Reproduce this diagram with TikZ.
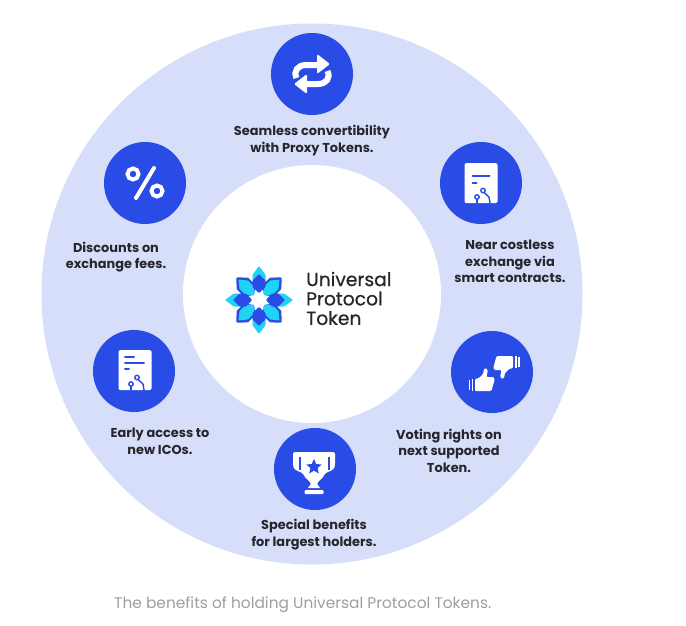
\documentclass[tikz,border=0pt]{standalone}
\usepackage{fontspec}
\setmainfont{Poppins}
\definecolor{ringc}{HTML}{D6DEF9}
\definecolor{bluec}{HTML}{2A4CE6}
\definecolor{cyanc}{HTML}{1FD3F5}
\definecolor{inkc}{HTML}{26262C}
\definecolor{capc}{HTML}{9C9EA0}
\tikzset{
  x=1pt,y=-1pt,
  badge/.style={circle,fill=bluec,minimum size=82pt,inner sep=0pt},
  lab/.style={align=center,font=\fontsize{12.9}{16.6}\selectfont\bfseries,text=inkc,inner sep=0pt},
  brand/.style={anchor=west,font=\fontsize{18.7}{20}\selectfont\addfontfeature{FakeBold=0.6},text=inkc,inner sep=0pt},
  captext/.style={anchor=west,font=\fontsize{15.4}{16}\selectfont,text=capc,inner sep=0pt},
  ico/.style={fill=white,draw=none},
  icl/.style={draw=bluec,line width=1.4pt,line cap=round},
  icb/.style={draw=bluec,line width=2pt,line cap=round}
}
\newcommand{\docicon}[1]{%
 \begin{scope}[shift={(#1)}]
  \fill[ico,rounded corners=1.5pt] (-16.5,-20) rectangle (16.5,20);
  \draw[icl] (-4,20) -- (-4,15);
  \draw[icl] (9,20) -- (8,14) -- (2.5,9);
  \draw[icl,fill=white] (-4,14) circle (2.2);
  \draw[icl,fill=white] (2,7.5) circle (2.2);
 \end{scope}}
\newcommand{\petal}[4]{%
 \begin{scope}[rotate=#1]
  \fill[#2,rounded corners=0.8pt] (#3,0) -- (0.74*#3,-#4) -- (13,-#4) -- (7,0) -- (13,#4) -- (0.74*#3,#4) -- cycle;
 \end{scope}}
\newcommand{\thumb}[2]{%
 \begin{scope}[shift={(#1)},rotate=#2]
  \fill[ico,rounded corners=1pt] (-9,-1) -- (-5,-2) -- (-1,-6) -- (0,-11) .. controls (2,-12) and (4,-11) .. (3.5,-8) -- (2.5,-3) -- (8,-3) .. controls (10.5,-3) and (10.5,0) .. (10,2) -- (8,9) .. controls (7.5,11) and (6.5,11) .. (5,11) -- (-9,11) -- cycle;
  \fill[ico] (-12.5,-1) rectangle (-11,11);
  \fill[ico] (-15.5,0) rectangle (-14,10);
 \end{scope}}
\begin{document}
\begin{tikzpicture}
\useasboundingbox (0,0) rectangle (686,625);
\fill[white] (0,0) rectangle (686,625);
\node[circle,fill=ringc,minimum size=541pt,inner sep=0pt] (ring) at (312,294) {};
\node[circle,fill=white,minimum size=258pt,inner sep=0pt] (hub) at (312,294) {};

\node[badge] (b1) at (312,74) {};
\node[badge] (b2) at (481,183) {};
\node[badge] (b3) at (492,372) {};
\node[badge] (b4) at (315,469) {};
\node[badge] (b5) at (134,371) {};
\node[badge] (b6) at (145,183) {};

\node[lab] (t1) at (312,140.5) {Seamless convertibility\\with Proxy Tokens.};
\node[lab] (t2) at (510,261.5) {Near costless\\exchange via\\smart contracts.};
\node[lab] (t3) at (449,450.5) {Voting rights on\\next supported\\Token.};
\node[lab] (t4) at (314,534.5) {Special benefits\\for largest holders.};
\node[lab] (t5) at (160,441) {Early access to\\new ICOs.};
\node[lab] (t6) at (116,257) {Discounts on\\exchange fees.};

% convert icon
\begin{scope}[shift={(312,74)}]
  \draw[white,line width=6pt] (-15.5,4) .. controls (-19,-3) and (-14,-9) .. (-6,-9) -- (6,-9);
  \fill[white,rounded corners=1.5pt] (5,-20) -- (18,-10) -- (5,0) -- cycle;
  \draw[white,line width=6pt] (15.5,-3) .. controls (19,4) and (14,10) .. (6,10) -- (-6,10);
  \fill[white,rounded corners=1.5pt] (-5,0) -- (-18,10) -- (-5,20) -- cycle;
\end{scope}

% percent icon
\begin{scope}[shift={(145,183)}]
  \draw[white,line width=4pt] (-12,-9) circle (5.5);
  \draw[white,line width=4pt] (12,8) circle (5.5);
  \draw[white,line width=4pt,line cap=round] (9,-15) -- (-9,15);
\end{scope}

\docicon{481,183}
\draw[icb] (472.5,176) -- (489.5,176);
\draw[icb] (472.5,183) -- (476.5,183);
\docicon{135,370}
\draw[icb] (125,357) -- (134,357);
\draw[icb] (125,363) -- (144,363);
\draw[icb] (125,369) -- (129,369);

% thumbs
\thumb{484,380}{0}
\thumb{504,367}{180}

% trophy
\begin{scope}[shift={(314,469)}]
  \fill[ico,rounded corners=2pt] (-21,-17) -- (21,-17) -- (21,-4) .. controls (20,1) and (14,3) .. (11,4) .. controls (9,9) and (5,12) .. (3,13) -- (3,16) -- (7,19) -- (-7,19) -- (-3,16) -- (-3,13) .. controls (-5,12) and (-9,9) .. (-11,4) .. controls (-14,3) and (-20,1) .. (-21,-4) -- cycle;
  \fill[bluec] (-15.5,-12) rectangle (-13.5,1);
  \fill[bluec] (13.5,-12) rectangle (15.5,1);
  \fill[bluec] (0,-10) -- (2.3,-5) -- (7.6,-4.5) -- (3.6,-1) -- (4.8,4.5) -- (0,1.6) -- (-4.8,4.5) -- (-3.6,-1) -- (-7.6,-4.5) -- (-2.3,-5) -- cycle;
  \fill[ico,rounded corners=1pt] (-9.5,21) rectangle (9.5,25);
\end{scope}

% logo
\begin{scope}[shift={(259,300)}]
  \foreach \a in {0,90,180,270}{\petal{\a}{cyanc}{34}{6.5}}
  \foreach \a in {45,135,225,315}{\petal{\a}{bluec}{32}{8}}
  \foreach \a in {45,135,225,315}{\petal{\a}{cyanc}{29}{6}}
  \foreach \a in {0,90,180,270}{\petal{\a}{bluec}{26}{6.5}}
\end{scope}
\node[brand] (u1) at (306,279) {Universal};
\node[brand] (u2) at (306,298.5) {Protocol};
\node[brand] (u3) at (306,318) {Token};

\node[captext] (caption) at (114,605) {The benefits of holding Universal Protocol Tokens.};
\end{tikzpicture}
\end{document}
